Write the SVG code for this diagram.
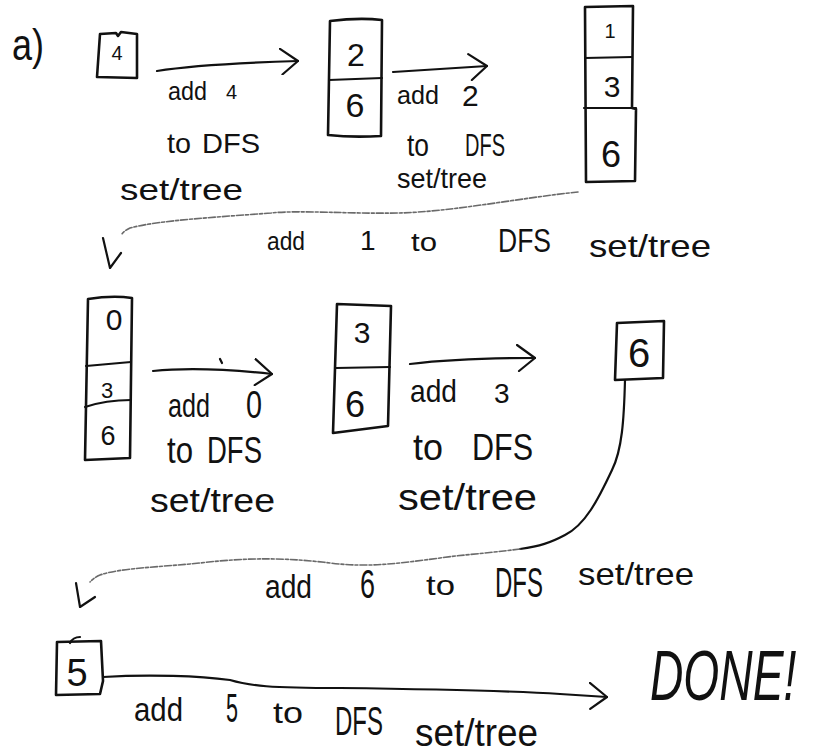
<svg xmlns="http://www.w3.org/2000/svg" width="825" height="754" viewBox="0 0 825 754">
  <style>
    .bg { fill: #ffffff; }
    .box { fill: none; stroke: #111; stroke-width: 2.6; stroke-linejoin: round; stroke-linecap: round; }
    .div { fill: none; stroke: #111; stroke-width: 2.2; stroke-linecap: round; }
    .wire { fill: none; stroke: #111; stroke-width: 2.2; stroke-linecap: round; }
    .faint { fill: none; stroke: #6a6a6a; stroke-width: 1.6; stroke-dasharray: 7 2 3 2; stroke-linecap: round; }
    .head { fill: none; stroke: #111; stroke-width: 2.2; stroke-linecap: round; stroke-linejoin: round; }
    .hw { font-family: "Liberation Sans Narrow", "Liberation Sans", sans-serif; fill: #111; }
    .num { font-family: "Liberation Sans", sans-serif; fill: #111; text-anchor: middle; }
    .done { font-family: "Liberation Sans", sans-serif; font-style: italic; fill: #111; }
  </style>
  <defs>
    <marker id="chev" viewBox="0 0 20 28" markerWidth="20" markerHeight="28" refX="19" refY="14" orient="auto" markerUnits="userSpaceOnUse">
      <path d="M1,1 L19,14 L3,27" fill="none" stroke="#111" stroke-width="2.2" stroke-linecap="round" stroke-linejoin="round"/>
    </marker>
  </defs>

  <rect class="bg" x="0" y="0" width="825" height="754"/>

  <!-- part label -->
  <text class="hw" x="12" y="60" font-size="44" textLength="32" lengthAdjust="spacingAndGlyphs">a)</text>

  <!-- stack states -->
  <g id="stack-4">
    <path class="box" d="M100,34 L116,33 L118,36 L121,32 L137,34 L137,78 L97,77 Z"/>
    <text class="num" x="117" y="60" font-size="20">4</text>
  </g>

  <g id="stack-2-6">
    <path class="box" d="M330,21 C346,19 365,18 382,20 L381,136 C364,137 346,137 328,135 Z"/>
    <path class="div" d="M329,80 L382,78"/>
    <text class="num" x="356" y="66" font-size="32">2</text>
    <text class="num" x="355" y="117" font-size="34">6</text>
  </g>

  <g id="stack-1-3-6">
    <path class="box" d="M585,7 L633,6 L632,108 L636,109 L635,181 L586,182 Z"/>
    <path class="div" d="M585,58 L632,57"/>
    <path class="div" d="M584,108 L636,108"/>
    <text class="num" x="610" y="38" font-size="20">1</text>
    <text class="num" x="612" y="97" font-size="30">3</text>
    <text class="num" x="611" y="167" font-size="36">6</text>
  </g>

  <g id="stack-0-3-6">
    <path class="box" d="M88,299 C101,297 118,296 132,298 L130,458 L85,460 Z"/>
    <path class="div" d="M86,366 L131,362"/>
    <path class="div" d="M85,407 C100,402 115,400 131,400"/>
    <text class="num" x="114" y="330" font-size="30">0</text>
    <text class="num" x="107" y="398" font-size="22">3</text>
    <text class="num" x="108" y="445" font-size="27">6</text>
  </g>

  <g id="stack-3-6">
    <path class="box" d="M337,304 L391,306 L388,426 L333,433 Z"/>
    <path class="div" d="M336,368 L390,367"/>
    <text class="num" x="362" y="343" font-size="30">3</text>
    <text class="num" x="355" y="417" font-size="36">6</text>
  </g>

  <g id="stack-6">
    <path class="box" d="M617,323 L664,321 L663,378 L615,380 Z"/>
    <text class="num" x="639" y="367" font-size="40">6</text>
  </g>

  <g id="stack-5">
    <path class="box" d="M57,642 L101,641 L103,681 L100,694 L56,695 Z"/>
    <path class="div" d="M70,643 C72,639 75,637 80,637"/>
    <text class="num" x="77" y="686" font-size="38">5</text>
  </g>

  <g id="done">
    <text class="done" transform="translate(650,700) scale(0.66,1)" x="0" y="0" font-size="70">DONE!</text>
  </g>

  <!-- transitions between stack states -->
  <g id="connectors">
    <path class="wire" d="M157,71 Q200,64 298,61" marker-end="url(#chev)"/>
    <path class="wire" d="M393,72 L487,66" marker-end="url(#chev)"/>

    <path class="faint" d="M578,192 C520,198 450,212 398,213 C350,214 300,210 271,213 C220,217 160,220 130,228 C126,230 123,232 122,234"/>
    <path class="head" d="M103,238 L110,268 L121,253"/>

    <path class="wire" d="M153,371 Q200,366 272,374" marker-end="url(#chev)"/>
    <path class="wire" d="M220,359 L222,363"/>
    <path class="wire" d="M410,364 Q460,358 535,358" marker-end="url(#chev)"/>

    <path class="wire" d="M625,380 C624,420 622,450 612,470 C598,500 585,525 565,535 C550,543 540,546 520,549"/>
    <path class="faint" d="M520,549 C490,553 460,555 440,558 C400,563 370,568 330,563 C290,558 250,557 200,563 C160,567 120,568 100,575 C95,577 92,580 90,582"/>
    <path class="head" d="M76,583 L80,607 L95,597"/>

    <path class="wire" d="M103,677 C150,674 200,676 230,680 C250,686 270,688 340,688 C420,689 500,690 560,694 L607,697" marker-end="url(#chev)"/>
  </g>

  <!-- step labels -->
  <g id="label-add-4">
    <text class="hw" font-size="25"><tspan x="168" y="100" textLength="39" lengthAdjust="spacingAndGlyphs">add</tspan> <tspan x="226" y="99" font-size="20">4</tspan></text>
    <text class="hw" font-size="28"><tspan x="167" y="153" textLength="24" lengthAdjust="spacingAndGlyphs">to</tspan> <tspan x="202" y="153" textLength="58" lengthAdjust="spacingAndGlyphs">DFS</tspan></text>
    <text class="hw" x="120" y="200" font-size="30" textLength="123" lengthAdjust="spacingAndGlyphs">set/tree</text>
  </g>

  <g id="label-add-2">
    <text class="hw" font-size="25"><tspan x="397" y="104" textLength="42" lengthAdjust="spacingAndGlyphs">add</tspan> <tspan x="462" y="106" font-size="30">2</tspan></text>
    <text class="hw" font-size="32"><tspan x="407" y="156" textLength="22" lengthAdjust="spacingAndGlyphs">to</tspan> <tspan x="465" y="156" textLength="40" lengthAdjust="spacingAndGlyphs">DFS</tspan></text>
    <text class="hw" x="397" y="188" font-size="28" textLength="90" lengthAdjust="spacingAndGlyphs">set/tree</text>
  </g>

  <g id="label-add-1">
    <text class="hw" font-size="25"><tspan x="267" y="250" textLength="38" lengthAdjust="spacingAndGlyphs">add</tspan> <tspan x="360" y="250" font-size="28">1</tspan> <tspan x="411" y="251" textLength="26" lengthAdjust="spacingAndGlyphs">to</tspan> <tspan x="498" y="252" font-size="34" textLength="53" lengthAdjust="spacingAndGlyphs">DFS</tspan> <tspan x="589" y="257" font-size="32" textLength="122" lengthAdjust="spacingAndGlyphs">set/tree</tspan></text>
  </g>

  <g id="label-add-0">
    <text class="hw" font-size="34"><tspan x="168" y="417" textLength="42" lengthAdjust="spacingAndGlyphs">add</tspan> <tspan x="246" y="418" font-size="38" textLength="16" lengthAdjust="spacingAndGlyphs">0</tspan></text>
    <text class="hw" font-size="36"><tspan x="167" y="463" textLength="26" lengthAdjust="spacingAndGlyphs">to</tspan> <tspan x="207" y="463" textLength="55" lengthAdjust="spacingAndGlyphs">DFS</tspan></text>
    <text class="hw" x="150" y="512" font-size="34" textLength="125" lengthAdjust="spacingAndGlyphs">set/tree</text>
  </g>

  <g id="label-add-3">
    <text class="hw" font-size="32"><tspan x="410" y="402" textLength="47" lengthAdjust="spacingAndGlyphs">add</tspan> <tspan x="494" y="403" font-size="28">3</tspan></text>
    <text class="hw" font-size="37"><tspan x="413" y="460" textLength="30" lengthAdjust="spacingAndGlyphs">to</tspan> <tspan x="472" y="460" textLength="61" lengthAdjust="spacingAndGlyphs">DFS</tspan></text>
    <text class="hw" x="398" y="510" font-size="36" textLength="139" lengthAdjust="spacingAndGlyphs">set/tree</text>
  </g>

  <g id="label-add-6">
    <text class="hw" font-size="34"><tspan x="265" y="598" textLength="47" lengthAdjust="spacingAndGlyphs">add</tspan> <tspan x="360" y="598" font-size="40" textLength="15" lengthAdjust="spacingAndGlyphs">6</tspan> <tspan x="426" y="595" font-size="28" textLength="29" lengthAdjust="spacingAndGlyphs">to</tspan> <tspan x="495" y="597" font-size="42" textLength="48" lengthAdjust="spacingAndGlyphs">DFS</tspan> <tspan x="578" y="585" font-size="32" textLength="116" lengthAdjust="spacingAndGlyphs">set/tree</tspan></text>
  </g>

  <g id="label-add-5">
    <text class="hw" font-size="34"><tspan x="134" y="721" textLength="49" lengthAdjust="spacingAndGlyphs">add</tspan> <tspan x="226" y="722" font-size="40" textLength="12" lengthAdjust="spacingAndGlyphs">5</tspan> <tspan x="273" y="723" font-size="30" textLength="30" lengthAdjust="spacingAndGlyphs">to</tspan> <tspan x="335" y="735" font-size="40" textLength="48" lengthAdjust="spacingAndGlyphs">DFS</tspan> <tspan x="415" y="746" font-size="38" textLength="123" lengthAdjust="spacingAndGlyphs">set/tree</tspan></text>
  </g>
</svg>
